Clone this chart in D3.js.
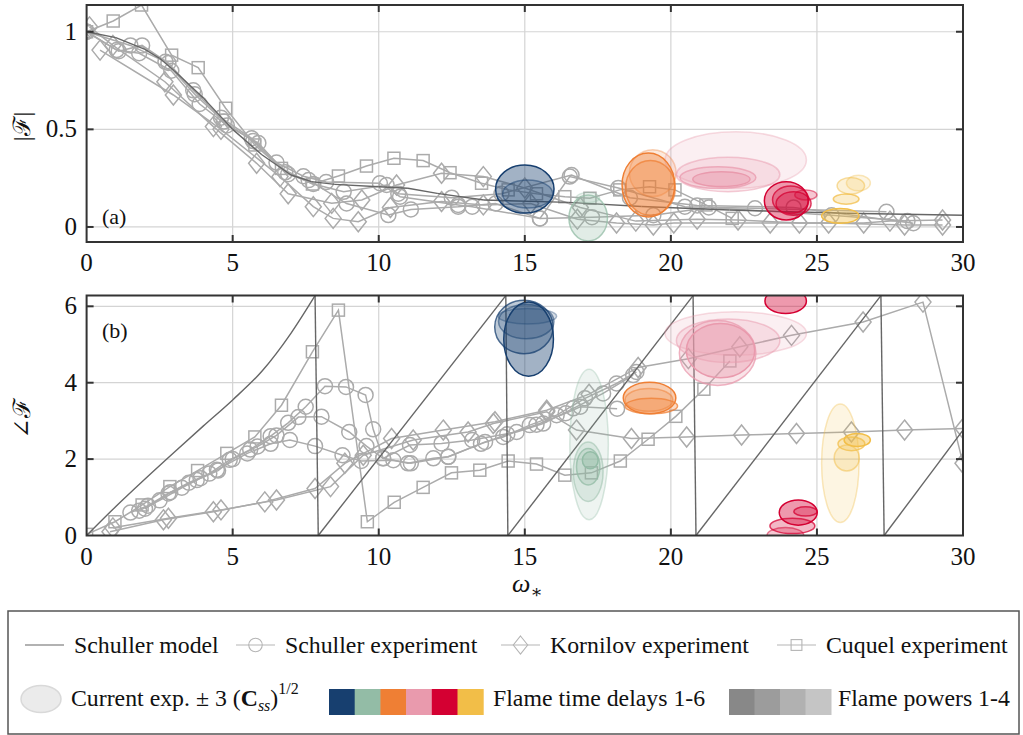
<!DOCTYPE html>
<html>
<head>
<meta charset="utf-8">
<script src="https://cdn.jsdelivr.net/npm/d3@7"></script>
<style>
  body { margin: 0; background: #fff; }
  svg text { font-family: "Liberation Serif", "Times New Roman", "DejaVu Serif", serif; fill: #111; }
</style>
</head>
<body>
<svg id="chart" width="1023" height="735"></svg>
<script>
// ---- data (omega, value) ----
const xTicks = [0, 5, 10, 15, 20, 25, 30];
const magTicks = [0, 0.5, 1];
const magTickLabels = ["0", "0.5", "1"];
const phaseTicks = [0, 2, 4, 6];

// Schuller model (phase wrapped into [0, 2pi])
const modelMag = [[0, 1], [1, 0.97], [2, 0.91], [2.5, 0.864], [3, 0.8], [4, 0.66], [5, 0.5], [6, 0.37],
  [7, 0.266], [7.7, 0.232], [8.5, 0.218], [10, 0.206], [11, 0.198], [12, 0.172], [13.6, 0.138],
  [16.5, 0.126], [19, 0.105], [22, 0.087], [26, 0.07], [30, 0.06]];
const modelPhase = [[0, 0], [1, 0.76], [2, 1.48], [3, 2.18], [4, 2.87], [5, 3.55], [6, 4.3],
  [7, 5.3], [7.82, 6.28], [7.93, 0], [14.35, 6.28], [14.42, 0], [20.76, 6.28], [20.86, 0],
  [27.19, 6.28], [27.3, 0], [30, 2.76]];

// Schuller experiment runs
const schullerMag = [
  [[0, 1], [1.1, 0.9], [1.9, 0.93], [2.8, 0.84], [3.65, 0.7], [4.6, 0.56], [5.65, 0.454], [6.5, 0.33],
   [7.42, 0.26], [8.2, 0.23], [10.04, 0.224], [10.73, 0.155], [12.72, 0.113], [13.2, 0.104],
   [15.52, 0.044], [16.54, 0.258], [18.2, 0.2], [20.48, 0.104], [22.88, 0.096], [27.38, 0.078]],
  [[0, 1], [1.03, 0.906], [1.8, 0.89], [2.9, 0.8], [3.87, 0.63], [4.8, 0.52], [5.88, 0.43], [6.8, 0.28],
   [7.76, 0.22], [8.8, 0.18], [10.27, 0.215], [10.67, 0.17], [12.5, 0.15], [14.2, 0.17], [16.6, 0.266],
   [18.6, 0.15], [20.9, 0.11], [24.2, 0.1], [28.3, 0.019]],
  [[0, 1], [1.5, 0.93], [2.7, 0.846], [3.7, 0.68], [4.7, 0.54], [5.7, 0.44], [6.9, 0.27], [7.6, 0.24],
   [8.9, 0.12], [10.33, 0.061], [11.1, 0.09], [12.72, 0.104], [14.0, 0.12], [15.52, 0.044],
   [17.3, 0.05], [19.4, 0.06], [21.3, 0.1], [25.5, 0.06], [28.1, 0.03]]
];
const schullerPhase = [
  [[1.5, 0.6], [2.1, 0.78], [2.8, 1.1], [3.5, 1.38], [4.2, 1.62], [4.9, 1.98], [5.6, 2.25], [6.3, 2.6],
   [6.9, 2.95], [7.5, 3.37], [8.16, 3.91], [8.88, 3.89], [9.55, 3.68], [9.81, 2.78], [10.15, 2.02],
   [11.0, 1.89], [11.87, 2.02], [12.38, 2.06], [13.64, 2.45], [14.26, 2.58], [15.17, 2.89],
   [16.09, 3.15], [17.06, 3.59], [18.14, 3.98], [18.82, 4.28]],
  [[1.8, 0.65], [2.5, 0.92], [3.26, 1.25], [3.9, 1.5], [4.5, 1.7], [5.0, 2.0], [5.85, 2.33], [6.5, 2.62],
   [7.25, 3.1], [8.04, 3.11], [8.99, 2.71], [9.58, 2.34], [10.15, 2.02], [11.07, 2.37], [12.15, 2.41],
   [13.2, 2.5], [14.72, 2.71], [15.63, 2.93], [16.66, 3.33], [17.68, 3.72], [18.71, 4.2]],
  [[2.0, 0.7], [2.86, 1.13], [3.77, 1.45], [4.46, 1.72], [5.5, 2.15], [6.3, 2.4], [6.96, 2.5],
   [7.82, 2.34], [8.76, 2.1], [9.4, 1.95], [10.5, 1.97], [11.1, 1.89], [12.38, 2.06], [13.5, 2.4],
   [14.4, 2.65], [15.4, 2.9], [16.4, 3.2], [16.9, 3.37], [18.16, 3.32]]
];

// Kornilov experiment runs
const kornilovMag = [
  [[0.1, 1.025], [0.9, 0.93], [2.68, 0.744], [4.34, 0.514], [5.82, 0.326], [6.9, 0.17], [8.39, 0.121],
   [9.42, 0.138], [10.61, 0.215], [12.15, 0.275], [13.58, 0.258], [15.0, 0.2], [16.9, 0.1],
   [18.8, 0.03], [20.9, 0.04], [22.3, 0.036], [24.4, 0.02], [26.6, 0.02], [27.5, 0.03], [29.3, 0.036]],
  [[0.46, 0.906], [2.97, 0.676], [4.6, 0.5], [6.62, 0.258], [7.76, 0.104], [8.44, 0.044], [9.3, 0.027],
   [10.4, 0.1], [12.15, 0.13], [13.58, 0.113], [15.2, 0.12], [16.8, 0.04], [18.14, 0.02], [19.4, 0.01],
   [20.1, 0.02], [23.4, 0.02], [25.4, 0.02], [28.0, 0.01], [29.3, 0.01]]
];
const kornilovPhase = [
  [[0.8, 0.1], [2.63, 0.41], [4.34, 0.62], [6.1, 0.88], [7.82, 1.23], [8.84, 1.89], [10.44, 2.54],
   [12.21, 2.76], [13.98, 2.98], [15.75, 3.28], [17.2, 3.7], [18.88, 4.4], [20.6, 4.63], [22.36, 4.94],
   [24.13, 5.24], [26.58, 5.59], [28.63, 6.11], [30, 1.89]],
  [[0.9, 0.2], [2.8, 0.45], [4.6, 0.67], [6.5, 0.93], [8.35, 1.28], [9.47, 2.1], [11.18, 2.5],
   [13.06, 2.71], [13.92, 2.93], [15.75, 3.24], [16.77, 2.76], [18.65, 2.54], [20.54, 2.58],
   [22.42, 2.63], [24.3, 2.67], [26.18, 2.71], [28.0, 2.76], [30, 2.8]]
];

// Cuquel experiment
const cuquelMag = [[0, 1], [0.91, 1.055], [1.88, 1.137], [2.91, 0.88], [3.82, 0.816], [4.76, 0.608],
  [5.76, 0.42], [6.67, 0.3], [7.73, 0.22], [8.62, 0.261], [9.58, 0.312], [10.52, 0.352], [11.52, 0.34],
  [12.44, 0.278], [13.52, 0.224], [14.43, 0.19], [15.4, 0.17], [16.37, 0.155], [17.23, 0.147],
  [18.25, 0.19], [19.27, 0.206], [20.14, 0.19], [21.2, 0.113], [22.1, 0.044]];
const cuquelPhase = [[0, 0.03], [0.97, 0.36], [1.9, 0.8], [2.85, 1.28], [3.8, 1.7], [4.8, 2.15],
  [5.76, 2.58], [6.67, 3.41], [7.73, 4.81], [8.62, 5.9], [9.61, 0.36], [10.53, 0.87], [11.52, 1.26],
  [12.49, 1.64], [13.46, 1.71], [14.43, 1.95], [15.4, 1.87], [16.37, 1.58], [17.28, 1.64],
  [18.27, 1.95], [19.22, 2.52], [20.17, 3.12], [21.13, 3.83], [22.02, 4.57]];

// current experiment: [delay group, power, omega, value, half-width omega, half-height value]
const delayColors = ["#173f6f", "#93bca6", "#ef7f34", "#e99aad", "#d40032", "#f2be48"];
const powerGrays = ["#888888", "#9c9c9c", "#b1b1b1", "#c5c5c5"];
const magEllipses = [
  [0, 1, 15.0, 0.194, 1.0, 0.123], [0, 3, 15.1, 0.169, 0.86, 0.072],
  [1, 2, 17.17, 0.046, 0.66, 0.118], [1, 4, 17.16, 0.15, 0.4, 0.026],
  [2, 1, 19.23, 0.215, 0.9, 0.164], [2, 2, 19.3, 0.2, 0.85, 0.14], [2, 4, 19.38, 0.276, 0.8, 0.12],
  [3, 4, 22.22, 0.343, 2.42, 0.145], [3, 3, 21.96, 0.269, 1.77, 0.088],
  [3, 2, 21.61, 0.253, 1.3, 0.055], [3, 1, 21.73, 0.245, 0.98, 0.038],
  [4, 1, 23.95, 0.134, 0.75, 0.098], [4, 2, 24.1, 0.14, 0.62, 0.07], [4, 2, 24.2, 0.12, 0.6, 0.06],
  [4, 3, 24.62, 0.164, 0.38, 0.026],
  [5, 1, 25.8, 0.057, 0.64, 0.038], [5, 2, 26.0, 0.143, 0.44, 0.026],
  [5, 3, 26.16, 0.211, 0.47, 0.043], [5, 4, 26.42, 0.225, 0.41, 0.04]
];
const phaseEllipses = [
  [0, 1, 15.13, 5.14, 0.85, 0.97], [0, 2, 14.97, 5.46, 1.0, 0.7], [0, 3, 15.05, 5.6, 0.95, 0.45],
  [0, 4, 15.09, 5.74, 1.0, 0.2],
  [1, 4, 17.2, 2.38, 0.66, 1.97], [1, 3, 17.17, 1.67, 0.51, 0.78], [1, 2, 17.17, 1.8, 0.4, 0.48],
  [1, 1, 17.24, 1.97, 0.27, 0.22],
  [2, 1, 19.27, 3.6, 0.9, 0.41], [2, 2, 19.33, 3.39, 0.9, 0.2], [2, 3, 19.25, 3.55, 0.82, 0.3],
  [3, 4, 22.22, 5.29, 2.42, 0.57], [3, 3, 21.96, 5.1, 1.77, 0.57], [3, 2, 21.6, 4.78, 1.31, 0.85],
  [3, 1, 21.7, 4.84, 1.17, 0.71],
  [4, 1, 23.93, 6.14, 0.71, 0.33], [4, 1, 24.36, 0.6, 0.65, 0.33], [4, 2, 24.61, 0.63, 0.4, 0.12],
  [4, 2, 24.16, 0.25, 0.77, 0.2], [4, 3, 23.92, 0.0, 0.63, 0.21],
  [5, 4, 25.8, 1.89, 0.64, 1.55], [5, 3, 26.02, 2.03, 0.43, 0.34], [5, 2, 26.18, 2.4, 0.46, 0.18],
  [5, 1, 26.38, 2.5, 0.45, 0.17]
];

// ---- styling ----
const FILL_OP = [0.4, 0.28, 0.22, 0.16];
const STROKE_OP = [1, 0.75, 0.5, 0.35];
const EXP_COLOR = "#ababab";
const MODEL_COLOR = "#666";

const svg = d3.select("#chart");
const x = d3.scaleLinear().domain([0, 30]).range([86.6, 963]);

const panels = [
  { id: "a", top: 5, bottom: 242, domain: [-0.077, 1.137], ticks: magTicks, labels: magTickLabels,
    ylab: "|\u2131|", tag: "(a)", tagY: 224, model: modelMag, sch: schullerMag, kor: kornilovMag,
    cuq: cuquelMag, ell: magEllipses },
  { id: "b", top: 295.5, bottom: 535.5, domain: [0, 2 * Math.PI], ticks: phaseTicks,
    labels: phaseTicks.map(String), ylab: "\u2220\u2131", tag: "(b)", tagY: 338, model: modelPhase,
    sch: schullerPhase, kor: kornilovPhase, cuq: cuquelPhase, ell: phaseEllipses }
];

const defs = svg.append("defs");

function marker(g, type, cx, cy, color, sw, size) {
  const s = size || 1;
  if (type === "circle") {
    g.append("circle").attr("cx", cx).attr("cy", cy).attr("r", 7.5 * s)
      .attr("fill", "none").attr("stroke", color).attr("stroke-width", sw);
  } else if (type === "diamond") {
    g.append("path").attr("transform", `translate(${cx},${cy})`)
      .attr("d", `M0,${-10 * s}L${8 * s},0L0,${10 * s}L${-8 * s},0Z`)
      .attr("fill", "none").attr("stroke", color).attr("stroke-width", sw);
  } else {
    g.append("rect").attr("x", cx - 6 * s).attr("y", cy - 6 * s).attr("width", 12 * s).attr("height", 12 * s)
      .attr("fill", "none").attr("stroke", color).attr("stroke-width", sw);
  }
}

// split a wrapped curve into rising pieces (the drops are drawn straight)
function pieces(pts) {
  const out = [[pts[0]]];
  for (let i = 1; i < pts.length; i++) {
    if (pts[i][1] < pts[i - 1][1]) out.push([]);
    out[out.length - 1].push(pts[i]);
  }
  return out;
}

panels.forEach(p => {
  const y = d3.scaleLinear().domain(p.domain).range([p.bottom, p.top]);
  const g = svg.append("g");

  defs.append("clipPath").attr("id", "clip-" + p.id)
    .append("rect").attr("x", x(0)).attr("y", p.top).attr("width", x(30) - x(0)).attr("height", p.bottom - p.top);

  // grid
  g.selectAll(".gx").data(xTicks.slice(1, -1)).enter().append("line")
    .attr("x1", d => x(d)).attr("x2", d => x(d)).attr("y1", p.top).attr("y2", p.bottom)
    .attr("stroke", "#d4d4d4").attr("stroke-width", 1.2);
  g.selectAll(".gy").data(p.ticks.filter(t => y(t) > p.top + 2 && y(t) < p.bottom - 2)).enter().append("line")
    .attr("x1", x(0)).attr("x2", x(30)).attr("y1", d => y(d)).attr("y2", d => y(d))
    .attr("stroke", "#d4d4d4").attr("stroke-width", 1.2);

  const plot = g.append("g").attr("clip-path", `url(#clip-${p.id})`);
  const line = d3.line().x(d => x(d[0])).y(d => y(d[1]));

  // experiments
  const series = [];
  p.sch.forEach(s => series.push({ pts: s, type: "circle" }));
  p.kor.forEach(s => series.push({ pts: s, type: "diamond" }));
  series.push({ pts: p.cuq, type: "square" });

  series.forEach(s => {
    plot.append("path").attr("d", line(s.pts)).attr("fill", "none")
      .attr("stroke", EXP_COLOR).attr("stroke-width", 1.5);
  });
  series.forEach(s => {
    s.pts.forEach(d => marker(plot, s.type, x(d[0]), y(d[1]), EXP_COLOR, 1.5));
  });

  // model: smooth rising pieces joined by straight drops
  const smooth = d3.line().x(d => x(d[0])).y(d => y(d[1])).curve(d3.curveMonotoneX);
  const parts = pieces(p.model);
  parts.forEach((part, i) => {
    plot.append("path").attr("d", smooth(part))
      .attr("fill", "none").attr("stroke", MODEL_COLOR).attr("stroke-width", 1.4);
    if (i > 0) {
      const prev = parts[i - 1][parts[i - 1].length - 1];
      plot.append("path").attr("d", line([prev, part[0]]))
        .attr("fill", "none").attr("stroke", MODEL_COLOR).attr("stroke-width", 1.4);
    }
  });

  // current experiment ellipses
  const k = (x(1) - x(0));
  const ky = Math.abs(y(1) - y(0));
  p.ell.slice().sort((a, b) => b[1] - a[1]).forEach(e => {
    const c = delayColors[e[0]];
    plot.append("ellipse")
      .attr("cx", x(e[2])).attr("cy", y(e[3]))
      .attr("rx", e[4] * k).attr("ry", e[5] * ky)
      .attr("fill", c).attr("fill-opacity", FILL_OP[e[1] - 1])
      .attr("stroke", c).attr("stroke-opacity", STROKE_OP[e[1] - 1]).attr("stroke-width", 1.5);
  });

  // frame and ticks
  g.append("rect").attr("x", x(0)).attr("y", p.top).attr("width", x(30) - x(0)).attr("height", p.bottom - p.top)
    .attr("fill", "none").attr("stroke", "#333").attr("stroke-width", 2);
  xTicks.slice(1, -1).forEach(t => {
    g.append("line").attr("x1", x(t)).attr("x2", x(t)).attr("y1", p.top).attr("y2", p.top + 7)
      .attr("stroke", "#333").attr("stroke-width", 2);
    g.append("line").attr("x1", x(t)).attr("x2", x(t)).attr("y1", p.bottom).attr("y2", p.bottom - 7)
      .attr("stroke", "#333").attr("stroke-width", 2);
  });
  p.ticks.forEach(t => {
    if (y(t) < p.top + 2 || y(t) > p.bottom - 2) return;
    g.append("line").attr("x1", x(0)).attr("x2", x(0) + 7).attr("y1", y(t)).attr("y2", y(t))
      .attr("stroke", "#333").attr("stroke-width", 2);
    g.append("line").attr("x1", x(30)).attr("x2", x(30) - 7).attr("y1", y(t)).attr("y2", y(t))
      .attr("stroke", "#333").attr("stroke-width", 2);
  });

  // tick labels
  g.selectAll(".xl").data(xTicks).enter().append("text")
    .attr("x", d => x(d)).attr("y", p.bottom + 29).attr("text-anchor", "middle")
    .attr("font-size", 25).text(d => d);
  g.selectAll(".yl").data(p.ticks).enter().append("text")
    .attr("x", 77).attr("y", (d, i) => y(d) + 8).attr("text-anchor", "end")
    .attr("font-size", 25).text((d, i) => p.labels[i]);

  g.append("text").attr("transform", `translate(30,${(p.top + p.bottom) / 2 + 3}) rotate(-90)`)
    .attr("text-anchor", "middle").attr("font-size", 24).text(p.ylab);
  g.append("text").attr("x", 102).attr("y", p.tagY).attr("font-size", 22).text(p.tag);
});

// x axis title
const xt = svg.append("text").attr("x", 512).attr("y", 592).attr("font-size", 26);
xt.append("tspan").attr("font-style", "italic").text("\u03c9");
xt.append("tspan").attr("font-size", 18).attr("dy", 6).text("\u2217");

// ---- legend ----
const lg = svg.append("g");
lg.append("rect").attr("x", 8).attr("y", 611).attr("width", 1011).attr("height", 123)
  .attr("fill", "#fff").attr("stroke", "#555").attr("stroke-width", 1.5);

const LEG_FS = 23.8;
const legendRow1 = [
  { label: "Schuller model", x0: 25, x1: 64, tx: 74, type: null, color: MODEL_COLOR },
  { label: "Schuller experiment", x0: 236, x1: 275, tx: 285, type: "circle", color: "#b5b5b5" },
  { label: "Kornilov experiment", x0: 501, x1: 540, tx: 550, type: "diamond", color: "#b5b5b5" },
  { label: "Cuquel experiment", x0: 777, x1: 816, tx: 826, type: "square", color: "#b5b5b5" }
];
legendRow1.forEach(d => {
  lg.append("line").attr("x1", d.x0).attr("x2", d.x1).attr("y1", 645).attr("y2", 645)
    .attr("stroke", d.color).attr("stroke-width", 1.2);
  if (d.type) marker(lg, d.type, (d.x0 + d.x1) / 2, 645, d.color, 1.1, 0.9);
  lg.append("text").attr("x", d.tx).attr("y", 653).attr("font-size", LEG_FS).text(d.label);
});

lg.append("ellipse").attr("cx", 41).attr("cy", 699).attr("rx", 20).attr("ry", 13.5)
  .attr("fill", "#ebebeb").attr("stroke", "#d9d9d9").attr("stroke-width", 1.5);
const ct = lg.append("text").attr("x", 71).attr("y", 706).attr("font-size", LEG_FS);
ct.append("tspan").text("Current exp. \u00b1 3 (");
ct.append("tspan").attr("font-weight", "bold").text("C");
ct.append("tspan").attr("font-style", "italic").attr("font-size", 16).attr("dy", 5).text("ss");
ct.append("tspan").attr("dy", -5).text(")");
ct.append("tspan").attr("font-size", 16).attr("dy", -12).text("1/2");

const sw = 25.7;
lg.selectAll(".sd").data(delayColors).enter().append("rect")
  .attr("x", (d, i) => 329 + i * sw).attr("y", 689).attr("width", sw + 0.5).attr("height", 26)
  .attr("fill", d => d);
lg.append("text").attr("x", 493).attr("y", 706).attr("font-size", LEG_FS).text("Flame time delays 1-6");
lg.selectAll(".sp").data(powerGrays).enter().append("rect")
  .attr("x", (d, i) => 729 + i * 25.5).attr("y", 689).attr("width", 26).attr("height", 26)
  .attr("fill", d => d);
lg.append("text").attr("x", 838).attr("y", 706).attr("font-size", LEG_FS).text("Flame powers 1-4");
</script>
</body>
</html>
